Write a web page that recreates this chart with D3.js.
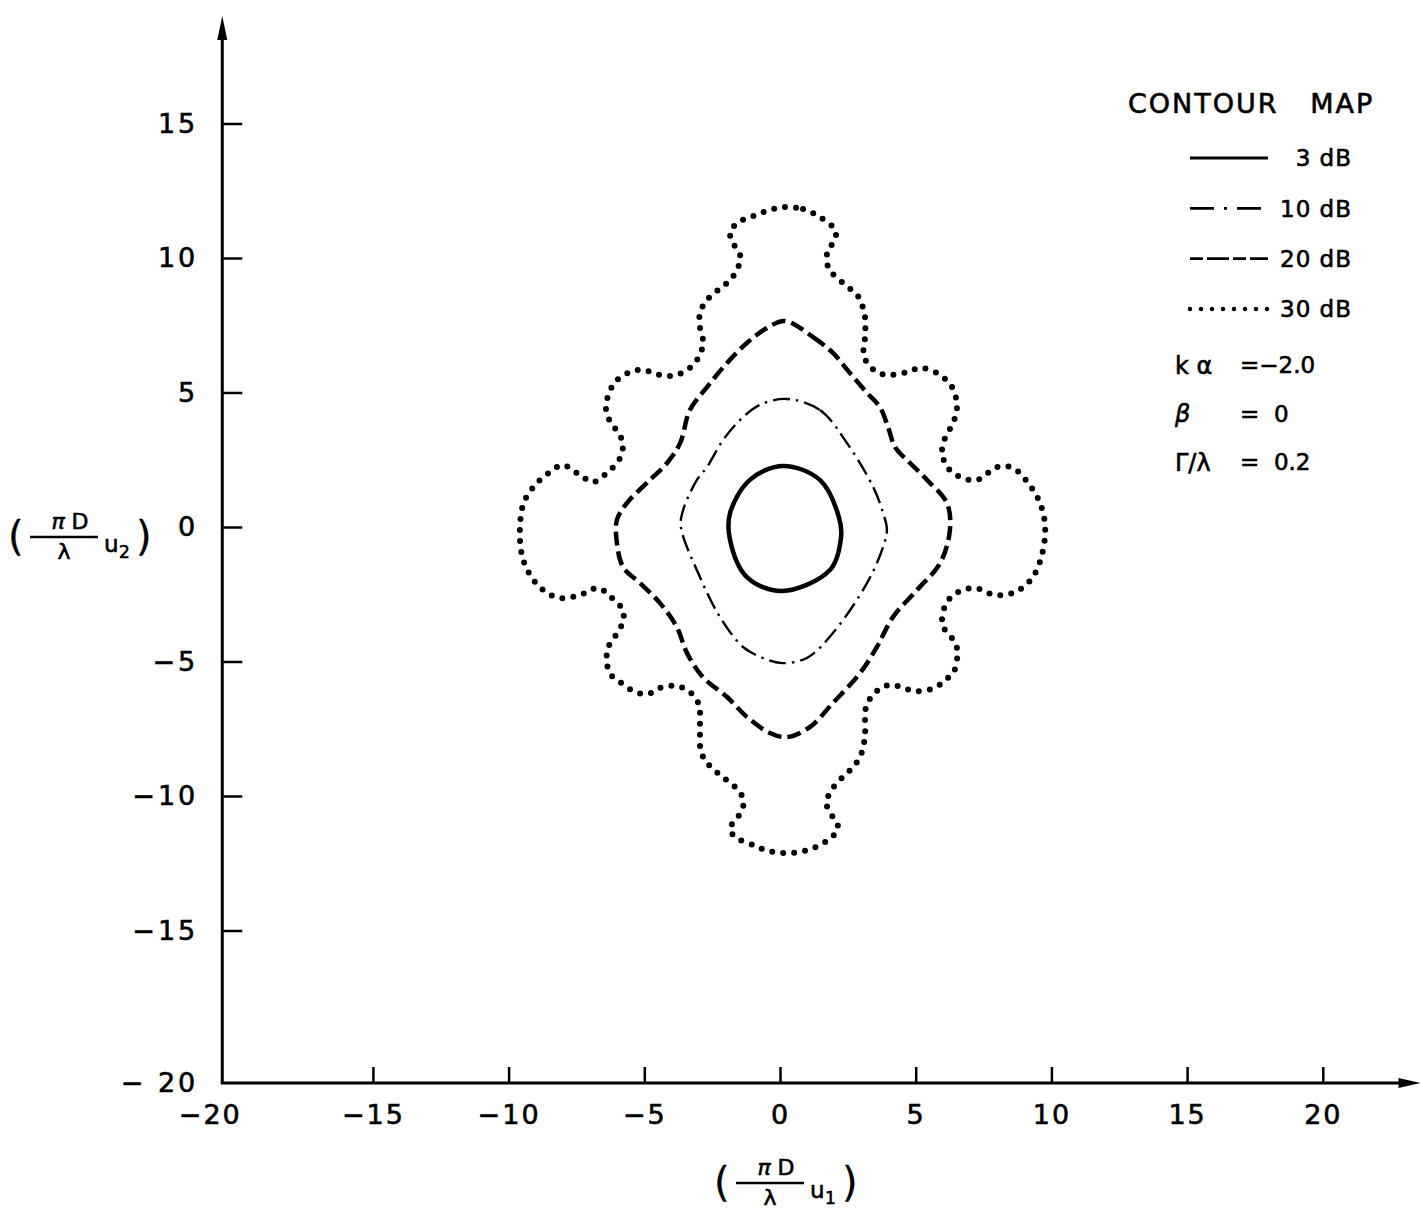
<!DOCTYPE html>
<html>
<head>
<meta charset="utf-8">
<script src="https://cdn.jsdelivr.net/npm/d3@7"></script>
<style>
  body { margin: 0; background: #fff; }
  text { font-family: "DejaVu Sans", sans-serif; fill: #000; stroke: #000; stroke-width: 0.6px; }
</style>
</head>
<body>
<div id="chart"></div>
<script>
// tick labels
const xTicks = [-20, -15, -10, -5, 0, 5, 10, 15, 20];
const yTicks = [-20, -15, -10, -5, 0, 5, 10, 15];

// contour levels (dB) and their outlines as [u1, u2]
const levels = ["3 dB", "10 dB", "20 dB", "30 dB"];

const contour3 = [
  [0.11, 2.27], [1.47, 1.75], [2.17, 0.37], [2.25, -0.37], [1.84, -1.60],
  [0.07, -2.38], [-1.22, -1.86], [-1.84, -0.48], [-1.84, 0.52], [-1.11, 1.75]
];

const contour10 = [
  [0.26, 4.76], [1.47, 4.35], [2.47, 3.12], [3.43, 1.49], [3.80, 0.52],
  [3.94, -0.11], [3.80, -0.74], [3.21, -2.08], [1.95, -3.94], [0.99, -4.87],
  [0.07, -5.06], [-0.63, -4.87], [-1.36, -4.46], [-2.21, -3.35], [-2.95, -1.86],
  [-3.65, 0], [-3.57, 0.63], [-3.06, 1.75], [-2.69, 2.23], [-2.10, 3.23],
  [-1.47, 3.98], [-0.74, 4.54]
];

const contour20 = [
  [0.18, 7.66], [1.22, 7.06], [1.95, 6.47], [2.58, 5.72], [3.21, 4.98],
  [3.68, 4.46], [3.98, 3.72], [4.24, 2.97], [4.79, 2.38], [5.42, 1.75],
  [6.15, 0.89], [6.26, -0.11], [5.90, -1.34], [5.05, -2.34], [4.16, -3.35],
  [3.57, -4.46], [2.95, -5.43], [1.95, -6.54], [1.11, -7.43], [0.26, -7.81],
  [-0.37, -7.66], [-1.22, -7.06], [-1.95, -6.32], [-2.84, -5.58], [-3.43, -4.68],
  [-3.80, -3.72], [-4.42, -2.83], [-5.16, -2.08], [-5.78, -1.49], [-6.01, -0.59],
  [-6.01, 0.26], [-5.64, 0.89], [-4.79, 1.75], [-4.16, 2.38], [-3.68, 3.12],
  [-3.32, 4.35], [-2.69, 5.20], [-1.95, 6.10], [-1.22, 6.84], [-0.48, 7.40]
];

const contour30 = [
  [0.11, 11.89], [0.85, 11.82], [1.47, 11.52], [2.03, 11.04], [2.03, 10.67],
  [1.77, 10.30], [1.73, 9.81], [1.92, 9.44], [2.40, 9.00], [2.87, 8.59],
  [3.13, 7.81], [3.13, 7.06], [3.10, 6.32], [3.57, 5.76], [4.05, 5.65],
  [4.68, 5.76], [5.16, 5.91], [5.79, 5.72], [6.34, 5.20], [6.52, 4.46],
  [6.38, 3.87], [6.08, 3.31], [5.97, 2.75], [6.19, 2.19], [6.63, 1.86],
  [7.26, 1.75], [8.00, 2.23], [8.59, 2.19], [9.14, 1.64], [9.58, 0.89],
  [9.77, 0], [9.65, -1.04], [9.29, -1.90], [8.66, -2.42], [7.92, -2.53],
  [7.19, -2.27], [6.56, -2.42], [6.15, -2.79], [5.97, -3.46], [6.08, -3.83],
  [6.34, -4.13], [6.52, -4.50], [6.52, -4.94], [6.38, -5.43], [6.08, -5.69],
  [5.71, -5.98], [4.97, -6.10], [4.31, -5.91], [3.87, -5.91], [3.43, -6.24],
  [3.17, -6.69], [3.13, -7.73], [3.02, -8.36], [2.76, -8.85], [2.32, -9.29],
  [1.95, -9.70], [1.73, -10.15], [1.77, -10.52], [2.03, -10.89], [2.14, -11.19],
  [1.92, -11.52], [1.47, -11.82], [0.92, -12.04], [0.18, -12.12], [-0.44, -12.04],
  [-0.99, -11.82], [-1.66, -11.52], [-1.84, -11.19], [-1.58, -10.82], [-1.36, -10.41],
  [-1.40, -10.00], [-1.66, -9.66], [-2.21, -9.22], [-2.65, -8.81], [-2.91, -8.36],
  [-2.95, -7.73], [-2.95, -7.17], [-2.98, -6.62], [-3.32, -6.13], [-3.80, -5.91],
  [-4.42, -5.98], [-4.86, -6.21], [-5.34, -6.13], [-5.90, -5.76], [-6.26, -5.46],
  [-6.38, -5.02], [-6.34, -4.50], [-6.04, -4.01], [-5.79, -3.53], [-5.79, -3.09],
  [-6.19, -2.64], [-6.71, -2.27], [-7.37, -2.53], [-8.11, -2.64], [-8.73, -2.34],
  [-9.21, -1.78], [-9.51, -1.04], [-9.58, 0], [-9.43, 0.93], [-8.95, 1.64],
  [-8.48, 2.04], [-8.00, 2.30], [-7.37, 1.93], [-6.89, 1.67], [-6.38, 2.01],
  [-5.93, 2.49], [-5.79, 2.97], [-5.90, 3.42], [-6.23, 3.87], [-6.41, 4.35],
  [-6.30, 4.98], [-6.01, 5.46], [-5.53, 5.76], [-5.05, 5.84], [-4.42, 5.65],
  [-3.80, 5.65], [-3.21, 6.02], [-2.91, 6.50], [-2.84, 6.95], [-2.95, 7.43],
  [-2.95, 7.95], [-2.69, 8.44], [-2.28, 8.81], [-1.84, 9.18], [-1.55, 9.63],
  [-1.47, 10.11], [-1.73, 10.56], [-1.84, 10.93], [-1.58, 11.30], [-0.99, 11.56],
  [-0.48, 11.75]
];

const params = [["k α", "=−2.0"], ["β", "=  0"], ["Γ/λ", "=  0.2"]];

const width = 1423, height = 1213;

const x = d3.scaleLinear().domain([-20, 20]).range([237.2, 1322.8]);
const y = d3.scaleLinear().domain([-20, 15]).range([1065, 123.5]);

// where the drawn axes start / end, in data units
const xAxisMin = -20.55, xAxisMax = 23.6;
const yAxisMin = -20.67, yAxisMax = 19.0;

const svg = d3.select("#chart")
    .append("svg")
    .attr("width", width)
    .attr("height", height)
    .style("background", "#fff");

const styles = [
    {width: 4.5, dash: null, cap: "round"},
    {width: 2.4, dash: "17 6 2.5 6", cap: "butt"},
    {width: 4.5, dash: "14 6", cap: "butt"},
    {width: 6, dash: "0 11", cap: "round"}
];

const line = d3.line()
    .x(d => x(d[0]))
    .y(d => y(d[1]))
    .curve(d3.curveCatmullRomClosed.alpha(0.5));

const contours = [contour3, contour10, contour20, contour30];

svg.selectAll(".contour")
    .data(contours)
    .enter().append("path")
    .attr("class", "contour")
    .attr("d", d => line(d))
    .attr("fill", "none")
    .attr("stroke", "#000")
    .attr("stroke-width", (d, i) => styles[i].width)
    .attr("stroke-dasharray", (d, i) => styles[i].dash)
    .attr("stroke-linecap", (d, i) => styles[i].cap);

// axes
const x0 = x(xAxisMin), y0 = y(yAxisMin);
const tickFont = "27px";

const xAxis = svg.append("g")
    .attr("transform", "translate(0," + y0 + ")")
    .call(d3.axisBottom(x).tickValues(xTicks.slice(1)).tickSize(-16).tickPadding(22)
        .tickFormat(d => d3.format("d")(d).replace("-", "−")));
xAxis.select(".domain").remove();
xAxis.selectAll("line").attr("stroke", "#000").attr("stroke-width", 2.5);
xAxis.selectAll("text").style("font-size", tickFont).style("font-family", "DejaVu Sans")
    .style("letter-spacing", "2px");

const yAxis = svg.append("g")
    .attr("transform", "translate(" + x0 + ",0)")
    .call(d3.axisLeft(y).tickValues(yTicks.slice(1)).tickSize(-20).tickPadding(24)
        .tickFormat(d => d3.format("d")(d).replace("-", "− ")));
yAxis.select(".domain").remove();
yAxis.selectAll("line").attr("stroke", "#000").attr("stroke-width", 2.5);
yAxis.selectAll("text").style("font-size", tickFont).style("font-family", "DejaVu Sans")
    .style("letter-spacing", "3px");

// -20 labels sit at the corner
svg.append("text")
    .attr("x", x0 - 12).attr("y", y0 + 22).attr("dy", "0.71em")
    .attr("text-anchor", "middle").style("font-size", tickFont).style("letter-spacing", "2px")
    .text("−" + Math.abs(xTicks[0]));
svg.append("text")
    .attr("x", x0 - 24).attr("y", y0).attr("dy", "0.32em")
    .attr("text-anchor", "end").style("font-size", tickFont).style("letter-spacing", "3px")
    .text("− " + Math.abs(yTicks[0]));

svg.append("line")
    .attr("x1", x0).attr("x2", x0)
    .attr("y1", y0).attr("y2", y(yAxisMax) + 10)
    .attr("stroke", "#000").attr("stroke-width", 3);
svg.append("line")
    .attr("x1", x0 - 1.5).attr("x2", x(xAxisMax) - 10)
    .attr("y1", y0).attr("y2", y0)
    .attr("stroke", "#000").attr("stroke-width", 3);

// arrow heads
const yt = y(yAxisMax), xr = x(xAxisMax);
svg.append("path")
    .attr("d", `M${x0},${yt} L${x0 - 5},${yt + 24} L${x0 + 5},${yt + 24} Z`)
    .attr("fill", "#000");
svg.append("path")
    .attr("d", `M${xr},${y0} L${xr - 22},${y0 - 5} L${xr - 22},${y0 + 5} Z`)
    .attr("fill", "#000");

// axis titles (fractions)
function fractionLabel(cx, cy, sub) {
    const g = svg.append("g").attr("transform", "translate(" + cx + "," + cy + ")");
    g.append("text").attr("x", -58).attr("y", 14).style("font-size", "40px")
        .style("stroke-width", "0.3px").text("(");
    g.append("text").attr("x", -8).attr("y", -7).attr("text-anchor", "middle")
        .style("font-size", "22px").style("font-style", "italic").text("π");
    g.append("text").attr("x", 14).attr("y", -7).attr("text-anchor", "middle")
        .style("font-size", "22px").text("D");
    g.append("line").attr("x1", -36).attr("x2", 32).attr("y1", 1).attr("y2", 1)
        .attr("stroke", "#000").attr("stroke-width", 2.5);
    g.append("text").attr("x", -2).attr("y", 23).attr("text-anchor", "middle")
        .style("font-size", "22px").text("λ");
    g.append("text").attr("x", 38).attr("y", 16).style("font-size", "23px").text("u");
    g.append("text").attr("x", 53).attr("y", 22).style("font-size", "17px").text(sub);
    g.append("text").attr("x", 70).attr("y", 14).style("font-size", "40px")
        .style("stroke-width", "0.3px").text(")");
}
fractionLabel(66, 536, "2");
fractionLabel(772, 1182, "1");

// legend
const lg = svg.append("g");
lg.append("text").attr("x", 1128).attr("y", 113)
    .style("font-size", "27px").style("letter-spacing", "2px")
    .style("white-space", "pre")
    .text("CONTOUR   MAP");

const legendY = d3.scalePoint().domain(levels).range([158, 309]);
lg.selectAll(".lline")
    .data(levels)
    .enter().append("line")
    .attr("class", "lline")
    .attr("x1", 1190).attr("x2", 1268)
    .attr("y1", d => legendY(d)).attr("y2", d => legendY(d))
    .attr("stroke", "#000")
    .attr("stroke-width", (d, i) => i === 3 ? 4.5 : 2.8)
    .attr("stroke-dasharray", (d, i) => i === 0 ? null : i === 1 ? "24 10 3 10" : i === 2 ? "13 4 22 4" : "0 11")
    .attr("stroke-linecap", (d, i) => i === 3 ? "round" : "butt");

lg.selectAll(".ltext")
    .data(levels)
    .enter().append("text")
    .attr("class", "ltext")
    .attr("x", 1352).attr("y", d => legendY(d)).attr("dy", "0.36em")
    .attr("text-anchor", "end")
    .style("font-size", "23px").style("letter-spacing", "1px")
    .text(d => d);

const paramY = d3.scalePoint().domain(params.map(p => p[0])).range([365, 462]);
lg.selectAll(".pname")
    .data(params)
    .enter().append("text")
    .attr("x", 1175).attr("y", d => paramY(d[0])).attr("dy", "0.36em")
    .style("font-size", "24px")
    .style("white-space", "pre")
    .style("font-style", (d, i) => i === 1 ? "italic" : "normal")
    .text(d => d[0]);
lg.selectAll(".pval")
    .data(params)
    .enter().append("text")
    .attr("x", 1240).attr("y", d => paramY(d[0])).attr("dy", "0.36em")
    .style("font-size", "23px")
    .style("white-space", "pre")
    .text(d => d[1]);
</script>
</body>
</html>
